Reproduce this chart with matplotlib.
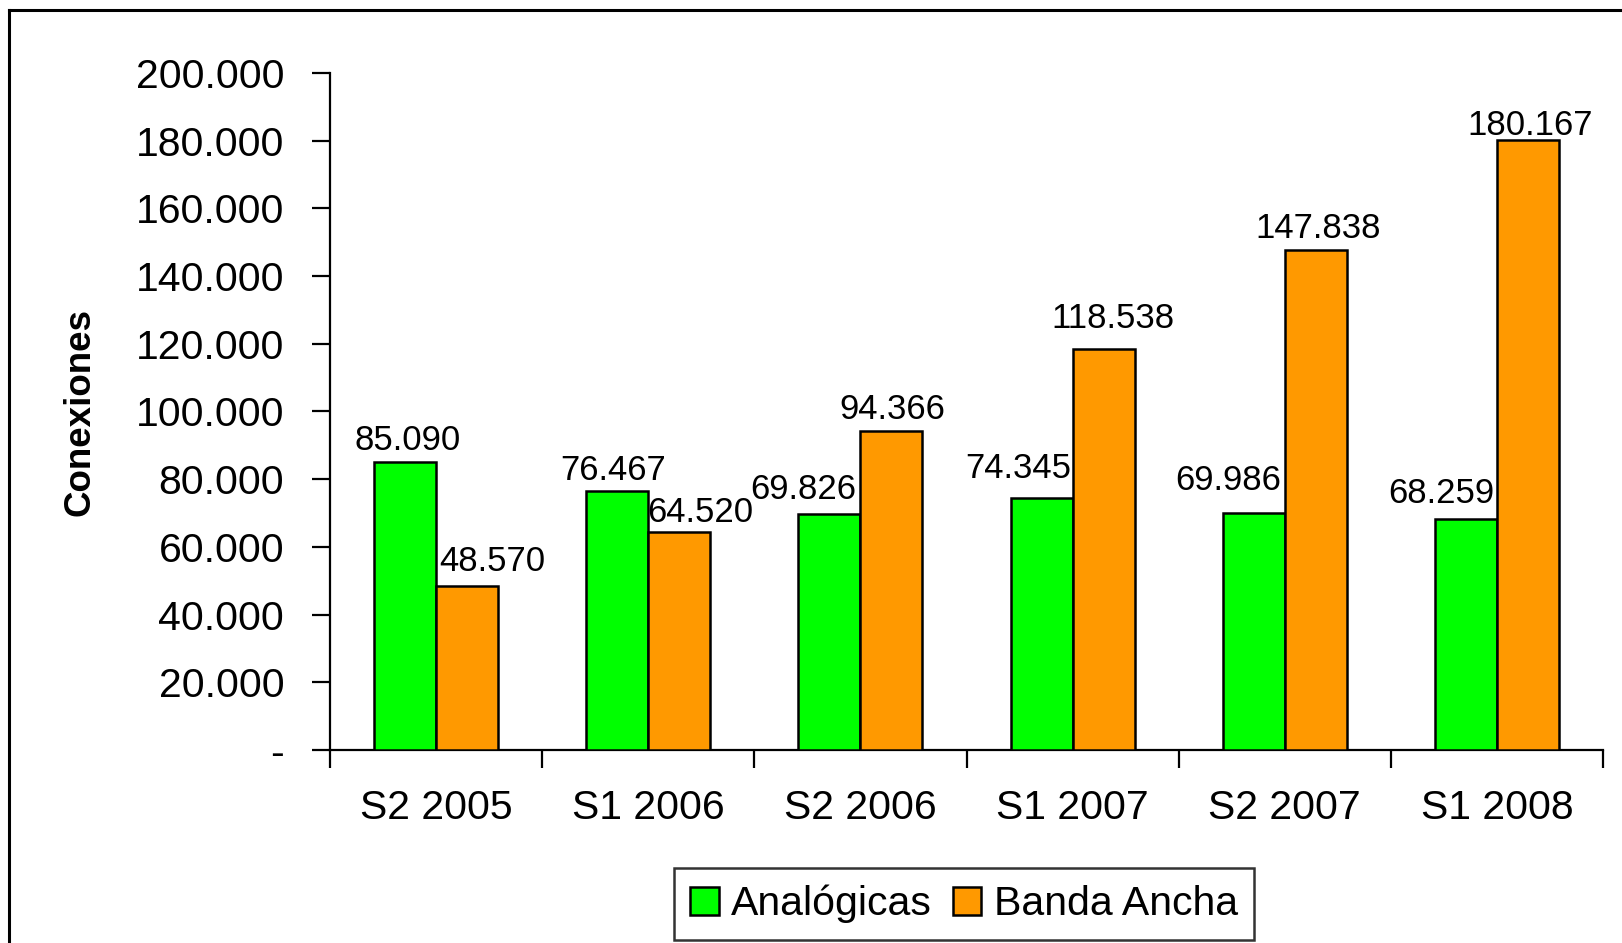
import matplotlib
matplotlib.use("Agg")
import matplotlib.pyplot as plt
from matplotlib.lines import Line2D
from matplotlib.ticker import FuncFormatter, MultipleLocator, FixedLocator
import numpy as np

plt.rcParams['font.family'] = ['Liberation Sans', 'DejaVu Sans']

categories = ["S2 2005", "S1 2006", "S2 2006", "S1 2007", "S2 2007", "S1 2008"]
analogicas = [85090, 76467, 69826, 74345, 69986, 68259]
banda_ancha = [48570, 64520, 94366, 118538, 147838, 180167]
series_names = ["Analógicas", "Banda Ancha"]

# label nudges (pixels) to mimic the reference placement
green_dx = [3, -4, -26, -23, -26, -25]
green_dy = [21, 21, 24, 30, 33, 25]
orange_dx = [25, 21, 1, 9, 2, 2]
orange_dy = [24, 19, 21, 30, 21, 15]

def fmt_thousands(v):
    if v == 0:
        return "-"
    return f"{int(round(v)):,}".replace(",", ".")

fig = plt.figure(figsize=(16.22, 9.43), dpi=100)
ax = fig.add_axes([330/1622, 1-750/943, (1603-330)/1622, (750-73)/943])

x = np.arange(len(categories))
w = 0.292
b1 = ax.bar(x - w/2, analogicas, w, color="#00FF00", edgecolor="black", linewidth=1.8, label=series_names[0], zorder=3)
b2 = ax.bar(x + w/2, banda_ancha, w, color="#FF9900", edgecolor="black", linewidth=1.8, label=series_names[1], zorder=3)

for i in range(len(categories)):
    ax.annotate(fmt_thousands(analogicas[i]), (x[i] - w/2, analogicas[i]),
                xytext=(green_dx[i], green_dy[i]), textcoords="offset pixels",
                ha="center", va="center", fontsize=25)
    ax.annotate(fmt_thousands(banda_ancha[i]), (x[i] + w/2, banda_ancha[i]),
                xytext=(orange_dx[i], orange_dy[i]), textcoords="offset pixels",
                ha="center", va="center", fontsize=25)

ax.set_xlim(-0.5, len(categories) - 0.5)
ax.set_ylim(0, 200000)
ax.yaxis.set_major_locator(MultipleLocator(20000))
ax.yaxis.set_major_formatter(FuncFormatter(lambda v, p: fmt_thousands(v)))

ax.xaxis.set_major_locator(FixedLocator(np.arange(-0.5, len(categories), 1.0)))
ax.xaxis.set_minor_locator(FixedLocator(x))
ax.set_xticklabels([])
ax.set_xticks(x, minor=True)
ax.set_xticklabels(categories, minor=True)

ax.tick_params(axis="x", which="major", direction="out", length=13, width=1.6)
ax.tick_params(axis="x", which="minor", length=0, pad=28, labelsize=29.5)
ax.tick_params(axis="y", direction="out", length=13, width=1.6, pad=20, labelsize=29.5)

for s in ["top", "right"]:
    ax.spines[s].set_visible(False)
for s in ["left", "bottom"]:
    ax.spines[s].set_linewidth(1.6)

ax.set_ylabel("Conexiones", fontsize=26.5, fontweight="bold")
ax.yaxis.set_label_coords(-0.183, 0.5)

leg = fig.legend(handles=[b1, b2], labels=series_names, loc="center",
                 bbox_to_anchor=(964/1622, 1-904/943), ncol=2, fontsize=29.5,
                 frameon=True, fancybox=False, edgecolor="black",
                 handlelength=0.7, handleheight=0.7, handletextpad=0.3,
                 columnspacing=0.5, borderpad=0.4, borderaxespad=0)
leg.get_frame().set_linewidth(1.8)

fig.add_artist(Line2D([9/1622, 9/1622], [0, 1-10/943], transform=fig.transFigure, color="black", linewidth=2.2))
fig.add_artist(Line2D([9/1622, 1], [1-10/943, 1-10/943], transform=fig.transFigure, color="black", linewidth=2.2))

fig.savefig("out.png", dpi=100, facecolor="white")
